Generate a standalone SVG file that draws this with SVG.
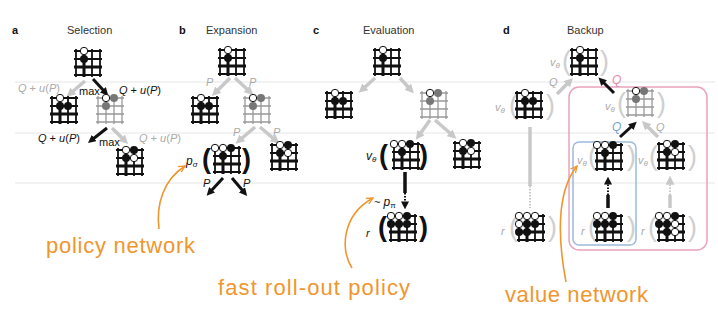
<svg xmlns="http://www.w3.org/2000/svg" width="718" height="310" viewBox="0 0 718 310">
<style>
text{font-family:"Liberation Sans",Arial,sans-serif}
.t{font-size:11px;fill:#333}
.pl{font-size:11px;font-weight:bold;fill:#111}
.lk{font-size:11px;fill:#111}
.lg{font-size:11px;fill:#aaa}
.i{font-style:italic}
.pk{font-size:27px;font-weight:bold;fill:#111}
.pg{font-size:27px;fill:#cfcfcf}
.sep{stroke:#e6e6e6;stroke-width:1}
.ab{stroke:#111;stroke-width:3;fill:none;marker-end:url(#hk)}
.ag{stroke:#c8c8c8;stroke-width:3.5;fill:none;marker-end:url(#hg)}
.or{font-size:22px;fill:#f0962e}
.oc{stroke:#f0962e;stroke-width:1.6;fill:none;marker-end:url(#ho)}
</style>
<defs>
<marker id="hk" viewBox="0 0 10 10" refX="2" refY="5" markerWidth="8" markerHeight="8" markerUnits="userSpaceOnUse" orient="auto"><path d="M0,0L10,5L0,10z" fill="#111"/></marker>
<marker id="hg" viewBox="0 0 10 10" refX="2" refY="5" markerWidth="9" markerHeight="9" markerUnits="userSpaceOnUse" orient="auto"><path d="M0,0L10,5L0,10z" fill="#c8c8c8"/></marker>
<marker id="ho" viewBox="0 0 10 10" refX="9" refY="5" markerWidth="8" markerHeight="8" markerUnits="userSpaceOnUse" orient="auto"><path d="M1,1L9,5L1,9" fill="none" stroke="#f0962e" stroke-width="1.6"/></marker>
<g id="gb" stroke="#111" fill="none"><path d="M-12,-14V14M4,-14V14M12,-14V14M-14,-12H14M-14,-4H14M-14,12H14" stroke-width="1.8"/><path d="M-4,-14V14M-14,4H14" stroke-width="3"/></g>
<path id="gg" d="M-12,-14V14M-4,-14V14M4,-14V14M12,-14V14M-14,-12H14M-14,-4H14M-14,4H14M-14,12H14" stroke="#999" stroke-width="1.3" fill="none"/>
<circle id="w" r="3.7" fill="#fff" stroke="#111" stroke-width="1"/>
<circle id="b" r="4" fill="#111"/>
<circle id="s" r="4" fill="#777"/>
</defs>
<rect width="718" height="310" fill="#fff"/>

<g id="separators">
<line class="sep" x1="15" y1="82" x2="715" y2="82"/>
<line class="sep" x1="15" y1="133" x2="715" y2="133"/>
<line class="sep" x1="15" y1="183" x2="715" y2="183"/>
</g>

<g id="titles">
<text class="pl" x="12" y="34">a</text><text class="t" x="67" y="34">Selection</text>
<text class="pl" x="179" y="34">b</text><text class="t" x="206" y="34">Expansion</text>
<text class="pl" x="313" y="34">c</text><text class="t" x="363" y="34">Evaluation</text>
<text class="pl" x="503" y="34">d</text><text class="t" x="567" y="34">Backup</text>
</g>

<g id="boxes">
<rect x="569" y="87" width="138" height="163" rx="10" fill="none" stroke="#e9a3bd" stroke-width="1.5"/>
<rect x="573" y="142" width="63" height="103" rx="6" fill="none" stroke="#9dbbdc" stroke-width="1.5"/>
</g>

<g id="connectors">
<line class="ag" x1="85" y1="81" x2="72" y2="92"/>
<line class="ab" x1="93" y1="79" x2="104" y2="91"/>
<line class="ab" x1="107" y1="128" x2="93" y2="139"/>
<line class="ag" x1="112" y1="128" x2="123" y2="139"/>
<line class="ag" x1="230" y1="78" x2="217" y2="91"/>
<line class="ag" x1="235" y1="78" x2="248" y2="90"/>
<line class="ag" x1="255" y1="127" x2="241" y2="139"/>
<line class="ag" x1="260" y1="127" x2="274" y2="139"/>
<line class="ab" x1="223" y1="178" x2="211" y2="191"/>
<line class="ab" x1="232" y1="178" x2="243" y2="191"/>
<line class="ag" x1="375" y1="78" x2="364" y2="88"/>
<line class="ag" x1="400" y1="78" x2="409" y2="88"/>
<line class="ag" x1="430" y1="120" x2="420" y2="134"/>
<line class="ag" x1="435" y1="120" x2="451" y2="134"/>
<line x1="405" y1="172" x2="405" y2="193" stroke="#111" stroke-width="3.5"/>
<line x1="405" y1="193" x2="405" y2="203" stroke="#111" stroke-width="2" stroke-dasharray="1.5,1.5" marker-end="url(#hk)"/>
<line class="ag" x1="557" y1="94" x2="568" y2="83"/>
<line class="ab" x1="614" y1="93" x2="603" y2="82"/>
<line class="ab" x1="620" y1="137" x2="632" y2="126"/>
<line class="ag" x1="658" y1="137" x2="647" y2="126"/>
<line x1="530" y1="127" x2="530" y2="186" stroke="#c8c8c8" stroke-width="3.5"/>
<line x1="530" y1="186" x2="530" y2="208" stroke="#c8c8c8" stroke-width="2" stroke-dasharray="1.5,1.5"/>
<line x1="608" y1="208" x2="608" y2="195" stroke="#111" stroke-width="3.5"/>
<line x1="608" y1="195" x2="608" y2="183" stroke="#111" stroke-width="2" stroke-dasharray="1.5,1.5" marker-end="url(#hk)"/>
<line x1="670" y1="208" x2="670" y2="195" stroke="#c8c8c8" stroke-width="3.5"/>
<line x1="670" y1="195" x2="670" y2="183" stroke="#c8c8c8" stroke-width="2" stroke-dasharray="1.5,1.5" marker-end="url(#hg)"/>
<path class="oc" d="M159,229 C156,205 163,180 185,166"/>
<path class="oc" d="M352,268 C340,250 342,215 373,198"/>
<path class="oc" d="M566,282 C558,240 556,192 577,166"/>
</g>

<g id="labels">
<text class="lg" x="18" y="92"><tspan class="i">Q</tspan> + <tspan class="i">u</tspan>(<tspan class="i">P</tspan>)</text>
<text class="lk" x="79" y="95">max</text>
<text class="lk" x="119" y="94"><tspan class="i">Q</tspan> + <tspan class="i">u</tspan>(<tspan class="i">P</tspan>)</text>
<text class="lk" x="38" y="142"><tspan class="i">Q</tspan> + <tspan class="i">u</tspan>(<tspan class="i">P</tspan>)</text>
<text class="lk" x="99" y="146">max</text>
<text class="lg" x="139" y="142"><tspan class="i">Q</tspan> + <tspan class="i">u</tspan>(<tspan class="i">P</tspan>)</text>
<text class="lg i" x="206" y="86" font-size="12">P</text>
<text class="lg i" x="249" y="86" font-size="12">P</text>
<text class="lg i" x="233" y="136" font-size="12">P</text>
<text class="lg i" x="273" y="136" font-size="12">P</text>
<text class="lk i" x="203" y="187" font-size="12">P</text>
<text class="lk i" x="243" y="187" font-size="12">P</text>
<text class="lk" x="374" y="206">~ <tspan class="i" font-size="12">p</tspan><tspan font-size="8" dy="2">π</tspan></text>
<text class="lg i" x="549" y="86" font-size="12">Q</text>
<text class="i" x="612" y="84" font-size="12" fill="#e58aa8">Q</text>
<text class="i" x="612" y="131" font-size="12" fill="#7a9fd0">Q</text>
<text class="lg i" x="656" y="131" font-size="12">Q</text>
</g>

<g id="a-root" transform="translate(88,63)"><use href="#gb"/><use href="#w" x="-4" y="-12"/><use href="#b" x="-4" y="-4"/></g>
<g id="a-left" transform="translate(64,110)"><use href="#gb"/><use href="#w" x="-4" y="-12"/><use href="#b" x="-4" y="-4"/><use href="#b" x="4" y="-4"/></g>
<g id="a-right" transform="translate(110,110)"><use href="#gg"/><use href="#w" x="-4" y="-12"/><use href="#s" x="4" y="-12"/><use href="#s" x="-4" y="-4"/></g>
<g id="a-leaf" transform="translate(130,162)"><use href="#gb"/><use href="#w" x="-4" y="-12"/><use href="#b" x="4" y="-12"/><use href="#b" x="-4" y="-4"/><use href="#w" x="4" y="-4"/></g>

<g id="b-root" transform="translate(232,62)"><use href="#gb"/><use href="#w" x="-4" y="-12"/><use href="#b" x="-4" y="-4"/></g>
<g id="b-left" transform="translate(205,110)"><use href="#gb"/><use href="#w" x="-4" y="-12"/><use href="#b" x="-4" y="-4"/><use href="#b" x="4" y="-4"/></g>
<g id="b-right" transform="translate(257,110)"><use href="#gg"/><use href="#w" x="-4" y="-12"/><use href="#s" x="4" y="-12"/><use href="#s" x="-4" y="-4"/></g>
<g id="b-expand">
<text class="lk" x="186" y="165"><tspan class="i" font-size="12">p</tspan><tspan font-size="8" dy="2" class="i">σ</tspan></text>
<text class="pk" x="202" y="168">(</text><text class="pk" x="242" y="168">)</text>
<g transform="translate(227,160)"><use href="#gb"/><use href="#w" x="-12" y="-12"/><use href="#w" x="-4" y="-12"/><use href="#b" x="4" y="-12"/><use href="#b" x="-4" y="-4"/></g>
</g>
<g id="b-leaf" transform="translate(284,157)"><use href="#gb"/><use href="#w" x="-4" y="-12"/><use href="#b" x="4" y="-12"/><use href="#b" x="-4" y="-4"/><use href="#w" x="4" y="-4"/></g>

<g id="c-root" transform="translate(387,62)"><use href="#gb"/><use href="#w" x="-4" y="-12"/><use href="#b" x="-4" y="-4"/></g>
<g id="c-left" transform="translate(339,105)"><use href="#gb"/><use href="#w" x="-4" y="-12"/><use href="#b" x="-4" y="-4"/><use href="#b" x="4" y="-4"/></g>
<g id="c-right" transform="translate(434,105)"><use href="#gg"/><use href="#w" x="-4" y="-12"/><use href="#s" x="4" y="-12"/><use href="#s" x="-4" y="-4"/></g>
<g id="c-eval">
<text class="lk" x="366" y="160"><tspan class="i" font-size="12">v</tspan><tspan font-size="8" dy="2" class="i">θ</tspan></text>
<text class="pk" x="379" y="164">(</text><text class="pk" x="419" y="164">)</text>
<g transform="translate(406,156)"><use href="#gb"/><use href="#w" x="-12" y="-12"/><use href="#w" x="-4" y="-12"/><use href="#b" x="4" y="-12"/><use href="#b" x="-4" y="-4"/></g>
</g>
<g id="c-leaf" transform="translate(467,155)"><use href="#gb"/><use href="#w" x="-4" y="-12"/><use href="#b" x="4" y="-12"/><use href="#b" x="-4" y="-4"/><use href="#w" x="4" y="-4"/></g>
<g id="c-rollout">
<text class="lk i" x="366" y="237" font-size="13">r</text>
<text class="pk" x="378" y="236">(</text><text class="pk" x="419" y="236">)</text>
<g transform="translate(403,228)"><use href="#gb"/><use href="#w" x="-12" y="-12"/><use href="#w" x="-4" y="-12"/><use href="#b" x="4" y="-12"/><use href="#b" x="-12" y="-4"/><use href="#b" x="-4" y="-4"/><use href="#b" x="4" y="-4"/></g>
</g>

<g id="d-root">
<text class="lg" x="550" y="66"><tspan class="i">v</tspan><tspan font-size="8" dy="2" class="i">θ</tspan></text>
<text class="pg" x="562" y="70">(</text><text class="pg" x="600" y="70">)</text>
<g transform="translate(584,62)"><use href="#gb"/><use href="#w" x="-4" y="-12"/><use href="#b" x="-4" y="-4"/></g>
</g>
<g id="d-left">
<text class="lg" x="495" y="111"><tspan class="i">v</tspan><tspan font-size="8" dy="2" class="i">θ</tspan></text>
<text class="pg" x="509" y="114">(</text><text class="pg" x="546" y="114">)</text>
<g transform="translate(529,105)"><use href="#gb"/><use href="#w" x="-4" y="-12"/><use href="#b" x="-4" y="-4"/><use href="#b" x="4" y="-4"/></g>
</g>
<g id="d-right">
<text class="lg" x="605" y="110"><tspan class="i">v</tspan><tspan font-size="8" dy="2" class="i">θ</tspan></text>
<text class="pg" x="617" y="112">(</text><text class="pg" x="657" y="112">)</text>
<g transform="translate(640,103)"><use href="#gg"/><use href="#w" x="-4" y="-12"/><use href="#s" x="4" y="-12"/><use href="#s" x="-4" y="-4"/></g>
</g>
<g id="d-eval-blue">
<text class="lg" x="577" y="164"><tspan class="i">v</tspan><tspan font-size="8" dy="2" class="i">θ</tspan></text>
<text class="pg" x="588" y="165">(</text><text class="pg" x="627" y="165">)</text>
<g transform="translate(609,157)"><use href="#gb"/><use href="#w" x="-12" y="-12"/><use href="#w" x="-4" y="-12"/><use href="#b" x="4" y="-12"/><use href="#b" x="-4" y="-4"/></g>
</g>
<g id="d-eval-right">
<text class="lg" x="638" y="164"><tspan class="i">v</tspan><tspan font-size="8" dy="2" class="i">θ</tspan></text>
<text class="pg" x="649" y="165">(</text><text class="pg" x="688" y="165">)</text>
<g transform="translate(671,156)"><use href="#gb"/><use href="#w" x="-4" y="-12"/><use href="#b" x="4" y="-12"/><use href="#b" x="-4" y="-4"/><use href="#w" x="4" y="-4"/></g>
</g>
<g id="d-roll-left">
<text class="lg i" x="501" y="235" font-size="13">r</text>
<text class="pg" x="509" y="236">(</text><text class="pg" x="548" y="236">)</text>
<g transform="translate(531,228)"><use href="#gb"/><use href="#w" x="-12" y="-12"/><use href="#w" x="-4" y="-12"/><use href="#w" x="4" y="-12"/><use href="#w" x="-12" y="-4"/><use href="#b" x="-4" y="-4"/><use href="#b" x="4" y="-4"/><use href="#b" x="-12" y="4"/><use href="#b" x="-4" y="4"/></g>
</g>
<g id="d-roll-blue">
<text class="lg i" x="581" y="235" font-size="13">r</text>
<text class="pg" x="588" y="236">(</text><text class="pg" x="627" y="236">)</text>
<g transform="translate(609,228)"><use href="#gb"/><use href="#w" x="-12" y="-12"/><use href="#w" x="-4" y="-12"/><use href="#b" x="4" y="-12"/><use href="#b" x="-12" y="-4"/><use href="#b" x="-4" y="-4"/><use href="#b" x="4" y="-4"/></g>
</g>
<g id="d-roll-right">
<text class="lg i" x="641" y="235" font-size="13">r</text>
<text class="pg" x="648" y="236">(</text><text class="pg" x="688" y="236">)</text>
<g transform="translate(671,228)"><use href="#gb"/><use href="#w" x="-12" y="-12"/><use href="#w" x="-4" y="-12"/><use href="#b" x="4" y="-12"/><use href="#b" x="-12" y="-4"/><use href="#b" x="-4" y="-4"/><use href="#w" x="4" y="-4"/><use href="#b" x="-4" y="4"/><use href="#w" x="4" y="4"/></g>
</g>

<g id="annotations">
<text class="or" x="46" y="253" textLength="149">policy network</text>
<text class="or" x="218" y="295" textLength="192">fast roll-out policy</text>
<text class="or" x="505" y="302" textLength="143">value network</text>
</g>
</svg>
